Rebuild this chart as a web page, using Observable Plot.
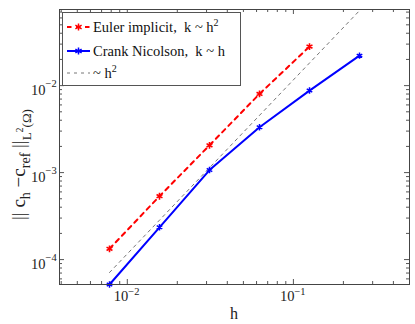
<!DOCTYPE html>
<html><head><meta charset="utf-8">
<script src="https://cdn.jsdelivr.net/npm/d3@7"></script>
<script src="https://cdn.jsdelivr.net/npm/@observablehq/plot@0.6"></script>
<style>
body{margin:0;background:#fff}
svg text{font-family:"Liberation Serif","Times New Roman",serif}
</style>
</head><body><div id="chart"></div>
<script>
// ---- data ----
const hEuler = [1/128, 1/64, 1/32, 1/16, 1/8];
const errEuler = [1.33e-4, 5.35e-4, 2.06e-3, 8.03e-3, 2.81e-2];
const hCN = [1/128, 1/64, 1/32, 1/16, 1/8, 1/4];
const errCN = [5.17e-5, 2.35e-4, 1.07e-3, 3.32e-3, 8.77e-3, 2.21e-2];
const hRef = [1/128, 1/4];
const errRef = [7.1e-5, 7.28e-2];
const xMajor = [0.01, 0.1];
const xMajorExp = ["\u22122", "\u22121"];
const yMajor = [1e-4, 1e-3, 1e-2];
const yMajorExp = ["\u22124", "\u22123", "\u22122"];
const xDomain = [1/256, 1/2];
const yDomain = [5.17e-5, 0.075];
const seriesNames = ["Euler implicit,  k ~ h", "Crank Nicolson,  k ~ h", "~ h"];

const W = 415, H = 324, mL = 59, mR = 6, mT = 9, mB = 40;
const fw = W - mL - mR, fh = H - mT - mB;

function minorTicks(domain) {
  const out = [];
  for (let e = Math.floor(Math.log10(domain[0])); e <= Math.ceil(Math.log10(domain[1])); e++) {
    for (let m = 2; m <= 9; m++) {
      const v = m * Math.pow(10, e);
      if (v >= domain[0] && v <= domain[1]) out.push(v);
    }
  }
  return out;
}
const xMinor = minorTicks(xDomain), yMinor = minorTicks(yDomain);

const euler = hEuler.map((h, i) => ({h, e: errEuler[i]}));
const cn = hCN.map((h, i) => ({h, e: errCN[i]}));
const ref = hRef.map((h, i) => ({h, e: errRef[i]}));

const tickColor = "#555";
const MAJ = 5, MIN = 3;

const svg = Plot.plot({
  width: W, height: H,
  marginLeft: mL, marginRight: mR, marginTop: mT, marginBottom: mB,
  style: {background: "#fff", fontFamily: "Liberation Serif, serif"},
  x: {type: "log", domain: xDomain, axis: null},
  y: {type: "log", domain: yDomain, axis: null},
  marks: [
    // ticks (inward, all four sides)
    Plot.tickX(xMajor, {x: d => d, insetTop: fh - MAJ, stroke: tickColor}),
    Plot.tickX(xMajor, {x: d => d, insetBottom: fh - MAJ, stroke: tickColor}),
    Plot.tickX(xMinor, {x: d => d, insetTop: fh - MIN, stroke: tickColor}),
    Plot.tickX(xMinor, {x: d => d, insetBottom: fh - MIN, stroke: tickColor}),
    Plot.tickY(yMajor, {y: d => d, insetRight: fw - MAJ, stroke: tickColor}),
    Plot.tickY(yMajor, {y: d => d, insetLeft: fw - MAJ, stroke: tickColor}),
    Plot.tickY(yMinor, {y: d => d, insetRight: fw - MIN, stroke: tickColor}),
    Plot.tickY(yMinor, {y: d => d, insetLeft: fw - MIN, stroke: tickColor}),
    // tick labels
    Plot.text(xMajor, {x: d => d, frameAnchor: "bottom", text: () => "10", textAnchor: "end", dy: 16, dx: 1, fontSize: 14.5, fill: "#222"}),
    Plot.text(xMajor, {x: d => d, frameAnchor: "bottom", text: (d, i) => xMajorExp[i], textAnchor: "start", dy: 10, dx: 1, fontSize: 10.5, fill: "#222"}),
    Plot.text(yMajor, {y: d => d, frameAnchor: "left", text: () => "10", textAnchor: "end", dx: -14, dy: 5, fontSize: 14.5, fill: "#222"}),
    Plot.text(yMajor, {y: d => d, frameAnchor: "left", text: (d, i) => yMajorExp[i], textAnchor: "start", dx: -14, dy: -2, fontSize: 10.5, fill: "#222"}),
    // reference slope
    Plot.line(ref, {x: "h", y: "e", stroke: "#666", strokeWidth: 0.9, strokeDasharray: "3,4", clip: true}),
    // Euler implicit
    Plot.line(euler, {x: "h", y: "e", stroke: "#ff0000", strokeWidth: 2, strokeDasharray: "4.5,4.5"}),
    Plot.dot(euler, {x: "h", y: "e", symbol: "asterisk", r: 3.2, stroke: "#ff0000", strokeWidth: 1.6}),
    // Crank Nicolson
    Plot.line(cn, {x: "h", y: "e", stroke: "#0000ff", strokeWidth: 2}),
    Plot.dot(cn, {x: "h", y: "e", symbol: "asterisk", r: 3, stroke: "#0000ff", strokeWidth: 1.5}),
    Plot.frame({stroke: "#444", strokeWidth: 1})
  ]
});

const s = d3.select(svg);
// x label
s.append("text").attr("x", mL + fw / 2).attr("y", 319).attr("text-anchor", "middle")
  .attr("font-size", 16).attr("fill", "#222").text("h");

// y label
const yl = s.append("text").attr("transform", `translate(25,${mT + fh / 2 + 18}) rotate(-90)`)
  .attr("text-anchor", "middle").attr("font-size", 19).attr("fill", "#222").style("white-space", "pre");
yl.append("tspan").text("|| c");
yl.append("tspan").attr("dy", 5).attr("font-size", 14).text("h");
yl.append("tspan").attr("dy", -5).text(" \u2212c");
yl.append("tspan").attr("dy", 5).attr("font-size", 14).text("ref");
yl.append("tspan").attr("dy", -5).text(" ||");
yl.append("tspan").attr("dy", 6).attr("font-size", 13).text("L");
yl.append("tspan").attr("dy", -8).attr("font-size", 10).text("2");
yl.append("tspan").attr("dy", 8).attr("font-size", 13).text("(\u03a9)");

// legend
const lg = s.append("g").attr("text-anchor", "start");
lg.append("rect").attr("x", 62.5).attr("y", 12.5).attr("width", 178).attr("height", 73)
  .attr("fill", "#fff").attr("stroke", "#555");
const rows = [
  {y: 27, color: "#ff0000", dash: "4.5,4.5", w: 2, marker: true, sup: true},
  {y: 51, color: "#0000ff", dash: null, w: 2, marker: true, sup: false},
  {y: 73, color: "#666", dash: "3,4", w: 0.9, marker: false, sup: true}
];
const star = d3.symbol(d3.symbolAsterisk, 36)();
rows.forEach((r, i) => {
  const ln = lg.append("line").attr("x1", 67).attr("x2", 90).attr("y1", r.y).attr("y2", r.y)
    .attr("stroke", r.color).attr("stroke-width", r.w);
  if (r.dash) ln.attr("stroke-dasharray", r.dash);
  if (r.marker) lg.append("path").attr("d", star).attr("transform", `translate(78.5,${r.y})`)
    .attr("fill", "none").attr("stroke", r.color).attr("stroke-width", 1.5);
  const t = lg.append("text").attr("x", 93).attr("y", r.y + 5).attr("font-size", 14.5)
    .attr("text-anchor", "start").attr("fill", "#111").style("white-space", "pre");
  t.append("tspan").text(seriesNames[i]);
  if (r.sup) t.append("tspan").attr("dy", -6).attr("font-size", 10).text("2");
});

document.getElementById("chart").appendChild(svg);
</script>
</body></html>
